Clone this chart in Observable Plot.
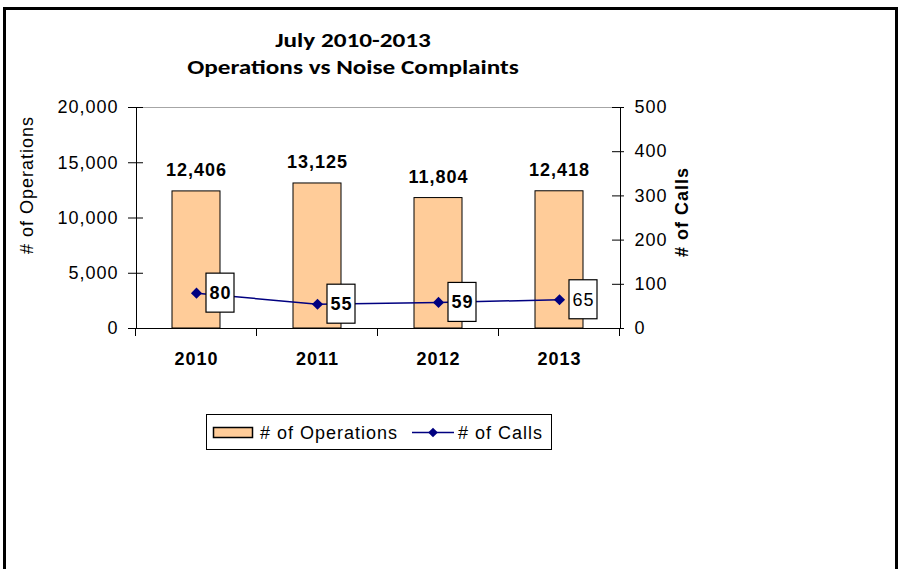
<!DOCTYPE html>
<html><head><meta charset="utf-8">
<script src="https://cdn.jsdelivr.net/npm/d3@7"></script>
<script src="https://cdn.jsdelivr.net/npm/@observablehq/plot@0.6"></script>
<style>
body{margin:0;background:#fff;}
#wrap{position:relative;width:901px;height:569px;overflow:hidden;font-family:"Liberation Sans",Arial,sans-serif;background:#fff;}
#border{position:absolute;left:3px;top:7px;width:889px;height:600px;border:3px solid #000;}
#chart{position:absolute;left:0;top:0;}
.title{position:absolute;left:0;width:706px;text-align:center;font-family:Carlito,Lato,sans-serif;font-weight:bold;font-size:21px;line-height:21px;color:#000;white-space:nowrap;transform:scaleX(1.2);transform-origin:353px 0;}
#chart svg text{letter-spacing:1px;}
</style></head><body>
<div id="wrap">
  <div id="border"></div>
  <div id="chart"></div>
  <div id="t1" class="title" style="top:30px"></div>
  <div id="t2" class="title" style="top:57px"></div>
</div>
<script>
const titleLines = ["July 2010-2013", "Operations vs Noise Complaints"];
const years = ["2010", "2011", "2012", "2013"];
const operations = [12406, 13125, 11804, 12418];
const calls = [80, 55, 59, 65];
const opsTicks = [0, 5000, 10000, 15000, 20000];
const callTicks = [0, 100, 200, 300, 400, 500];
const seriesNames = ["# of Operations", "# of Calls"];
const axisTitles = ["# of Operations", "# of Calls"];
const opsMax = 20000, callsMax = 500;
const k = opsMax / callsMax;

document.getElementById("t1").textContent = titleLines[0];
document.getElementById("t2").textContent = titleLines[1];

const data = years.map((year, i) => ({year, ops: operations[i], calls: calls[i]}));
const fmt = d3.format(",");
const BAR = "#FFCC99", NAVY = "#000080";

const plot = Plot.plot({
  width: 901, height: 569,
  marginLeft: 136, marginRight: 281, marginTop: 107, marginBottom: 241,
  style: {fontFamily: "'Liberation Sans', Arial, sans-serif", background: "transparent", overflow: "visible", color: "#000"},
  x: {domain: years, paddingInner: 0.6, paddingOuter: 0.3},
  y: {domain: [0, opsMax]},
  marks: [
    Plot.frame({stroke: "#000"}),
    Plot.ruleY([opsMax], {stroke: "#a6a6a6"}),
    Plot.barY(data, {x: "year", y: "ops", fill: BAR, stroke: "#000", strokeWidth: 1}),
    Plot.text(data, {x: "year", y: "ops", text: d => fmt(d.ops), dy: -15, lineAnchor: "bottom", fontWeight: "bold", fontSize: 18, fill: "#000"}),
    Plot.line(data, {x: "year", y: d => d.calls * k, stroke: NAVY, strokeWidth: 1.5}),
    Plot.dot(data, {x: "year", y: d => d.calls * k, symbol: "diamond2", r: 5, fill: NAVY, stroke: "none"}),
    Plot.text(data.filter(d => d.year !== "2013"), {x: "year", y: d => d.calls * k, text: d => String(d.calls), dx: 24, fontWeight: "bold", fontSize: 18, fill: "#000"}),
    Plot.text(data.filter(d => d.year === "2013"), {x: "year", y: d => d.calls * k, text: d => String(d.calls), dx: 24, fontWeight: "normal", fontSize: 18, fill: "#000"}),
    Plot.axisY({ticks: opsTicks, tickFormat: fmt, tickSize: 8, tickPadding: 10, fontSize: 18, label: null}),
    Plot.axisY({anchor: "right", ticks: callTicks.map(v => v * k), tickFormat: v => String(v / k), tickSize: 3, tickPadding: 11, fontSize: 18, label: null}),
    Plot.axisX({tickSize: 0, tickPadding: 24, fontSize: 18, fontWeight: "bold", label: null})
  ]
});
document.getElementById("chart").appendChild(plot);

const svg = d3.select(plot);
const xs = plot.scale("x"), ys = plot.scale("y");
const y0 = ys.apply(0);
const xLeft = xs.range[0], xRight = xs.range[1];

// category boundary ticks on x axis
const gap = xs.step - xs.bandwidth;
const bounds = years.map(y => xs.apply(y) - gap / 2).concat([xs.apply(years[years.length - 1]) + xs.bandwidth + gap / 2]);
svg.append("g").attr("stroke", "#000").selectAll("line").data(bounds).join("line")
  .attr("x1", d => d).attr("x2", d => d).attr("y1", y0).attr("y2", y0 + 8);

// inner parts of crossing y ticks
svg.append("g").attr("stroke", "#000").selectAll("line").data(opsTicks).join("line")
  .attr("x1", xLeft).attr("x2", xLeft + 7).attr("y1", d => ys.apply(d) + 0.5).attr("y2", d => ys.apply(d) + 0.5);
svg.append("g").attr("stroke", "#000").selectAll("line").data(callTicks).join("line")
  .attr("x1", xRight - 8).attr("x2", xRight).attr("y1", d => ys.apply(d * k) + 0.5).attr("y2", d => ys.apply(d * k) + 0.5);

// boxes behind call labels (inserted just before the call-label text groups)
const textGroups = svg.selectAll('g[aria-label="text"]').nodes();
if (textGroups.length >= 2) {
  const target = textGroups[1];
  const boxG = document.createElementNS("http://www.w3.org/2000/svg", "g");
  target.parentNode.insertBefore(boxG, target);
  data.forEach(d => {
    const cx = xs.apply(d.year) + xs.bandwidth / 2;
    const cy = ys.apply(d.calls * k);
    d3.select(boxG).append("rect")
      .attr("x", cx + 10).attr("y", cy - 19.5).attr("width", 28).attr("height", 39)
      .attr("fill", "#fff").attr("stroke", "#000").attr("stroke-width", 1.2);
  });
}

// axis titles
svg.append("text").attr("transform", `translate(33,185) rotate(-90)`).attr("text-anchor", "middle")
  .attr("font-size", 18).attr("fill", "#000").text(axisTitles[0]);
svg.append("text").attr("transform", `translate(688,212) rotate(-90)`).attr("text-anchor", "middle")
  .attr("font-size", 18).attr("font-weight", "bold").attr("fill", "#000").text(axisTitles[1]);

// legend
const lg = svg.append("g").attr("font-size", 18).attr("fill", "#000").attr("text-anchor", "start");
lg.append("rect").attr("x", 206.5).attr("y", 414.5).attr("width", 345).attr("height", 35).attr("fill", "#fff").attr("stroke", "#000");
lg.append("rect").attr("x", 213.5).attr("y", 427.5).attr("width", 39).attr("height", 10).attr("fill", BAR).attr("stroke", "#000").attr("stroke-width", 1.5);
lg.append("text").attr("x", 260).attr("y", 439).text(seriesNames[0]);
lg.append("line").attr("x1", 412).attr("x2", 454).attr("y1", 432.5).attr("y2", 432.5).attr("stroke", NAVY).attr("stroke-width", 1.5);
lg.append("path").attr("d", d3.symbol(d3.symbolDiamond2, 60)()).attr("transform", "translate(433,432.5)").attr("fill", NAVY);
lg.append("text").attr("x", 458).attr("y", 439).text(seriesNames[1]);
</script>
</body></html>
